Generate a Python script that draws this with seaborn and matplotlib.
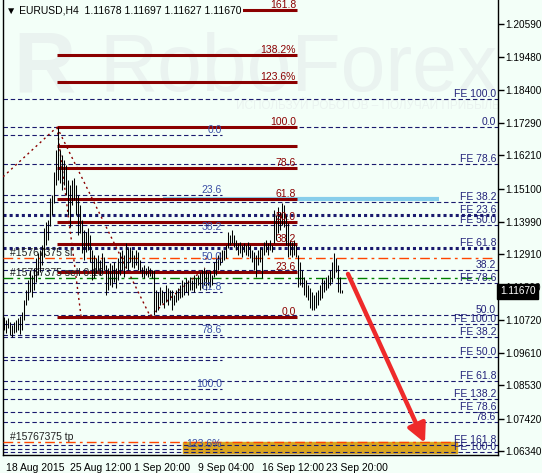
import numpy as np
import pandas as pd
import matplotlib
matplotlib.use("Agg")
import matplotlib.pyplot as plt
import matplotlib.transforms as mtransforms
from matplotlib.patches import Rectangle
import seaborn as sns

# H4 bars, index 0 = 18 Aug 2015 00:00
bar_high = [1.1081, 1.1071, 1.1078, 1.1065, 1.1055, 1.1065, 1.1071, 1.1078, 1.1085, 1.1098,
            1.1138, 1.1171, 1.1205, 1.1238, 1.1221, 1.1245, 1.1278, 1.1295, 1.1305, 1.1322,
            1.1378, 1.1398, 1.1405, 1.1478, 1.1488, 1.1565, 1.1639, 1.1715, 1.1639, 1.1622,
            1.1605, 1.1589, 1.1538, 1.1522, 1.1538, 1.1545, 1.1522, 1.1488, 1.1455, 1.1405,
            1.1372, 1.1365, 1.1378, 1.1355, 1.1305, 1.1288, 1.1278, 1.1288, 1.1272, 1.1295,
            1.1282, 1.1255, 1.1245, 1.1262, 1.1255, 1.1265, 1.1245, 1.1278, 1.1298, 1.1305,
            1.1288, 1.1328, 1.1312, 1.1315, 1.1305, 1.1288, 1.1305, 1.1298, 1.1272, 1.1248,
            1.1255, 1.1245, 1.1252, 1.1245, 1.1238, 1.1238, 1.1171, 1.1165, 1.1181, 1.1171,
            1.1165, 1.1188, 1.1178, 1.1171, 1.1171, 1.1155, 1.1171, 1.1178, 1.1188, 1.1205,
            1.1198, 1.1211, 1.1205, 1.1215, 1.1205, 1.1221, 1.1211, 1.1221, 1.1231, 1.1238,
            1.1245, 1.1238, 1.1231, 1.1238, 1.1221, 1.1265, 1.1278, 1.1288, 1.1298, 1.1305,
            1.1305, 1.1322, 1.1365, 1.1355, 1.1372, 1.1355, 1.1338, 1.1328, 1.1332, 1.1322,
            1.1328, 1.1322, 1.1332, 1.1322, 1.1305, 1.1298, 1.1288, 1.1305, 1.1315, 1.1312,
            1.1332, 1.1338, 1.1328, 1.1338, 1.1322, 1.1438, 1.1422, 1.1448, 1.1432, 1.1462,
            1.1455, 1.1422, 1.1395, 1.1338, 1.1332, 1.1338, 1.1322, 1.1288, 1.1265, 1.1238,
            1.1215, 1.1205, 1.1188, 1.1178, 1.1165, 1.1155, 1.1165, 1.1171, 1.1188, 1.1211,
            1.1205, 1.1215, 1.1221, 1.1238, 1.1265, 1.1295, 1.1278, 1.1255, 1.1215, 1.1170]
bar_low = [1.1038, 1.1028, 1.1045, 1.1021, 1.1015, 1.1028, 1.1031, 1.1038, 1.1025, 1.1038,
           1.1071, 1.1121, 1.1138, 1.1165, 1.1148, 1.1171, 1.1198, 1.1221, 1.1231, 1.1255,
           1.1282, 1.1322, 1.1338, 1.1385, 1.1422, 1.1462, 1.1522, 1.1538, 1.1528, 1.1505,
           1.1522, 1.1488, 1.1422, 1.1382, 1.1455, 1.1472, 1.1422, 1.1355, 1.1362, 1.1295,
           1.1272, 1.1298, 1.1305, 1.1265, 1.1205, 1.1211, 1.1228, 1.1238, 1.1221, 1.1231,
           1.1238, 1.1155, 1.1171, 1.1188, 1.1181, 1.1198, 1.1178, 1.1205, 1.1221, 1.1238,
           1.1215, 1.1245, 1.1238, 1.1265, 1.1248, 1.1245, 1.1255, 1.1238, 1.1231, 1.1215,
           1.1211, 1.1221, 1.1215, 1.1218, 1.1211, 1.1088, 1.1098, 1.1105, 1.1121, 1.1128,
           1.1111, 1.1131, 1.1121, 1.1138, 1.1105, 1.1121, 1.1131, 1.1138, 1.1145, 1.1148,
           1.1155, 1.1165, 1.1155, 1.1171, 1.1171, 1.1165, 1.1178, 1.1188, 1.1171, 1.1178,
           1.1188, 1.1171, 1.1188, 1.1181, 1.1188, 1.1215, 1.1221, 1.1238, 1.1255, 1.1265,
           1.1272, 1.1278, 1.1312, 1.1322, 1.1328, 1.1315, 1.1305, 1.1288, 1.1295, 1.1282,
           1.1298, 1.1288, 1.1285, 1.1278, 1.1265, 1.1238, 1.1215, 1.1255, 1.1265, 1.1211,
           1.1288, 1.1298, 1.1288, 1.1305, 1.1298, 1.1328, 1.1338, 1.1362, 1.1372, 1.1388,
           1.1382, 1.1322, 1.1282, 1.1288, 1.1282, 1.1288, 1.1282, 1.1181, 1.1188, 1.1181,
           1.1155, 1.1148, 1.1138, 1.1111, 1.1105, 1.1105, 1.1111, 1.1121, 1.1138, 1.1145,
           1.1165, 1.1171, 1.1178, 1.1188, 1.1198, 1.1211, 1.1231, 1.1165, 1.1161, 1.1163]

price_ticks = [1.20590, 1.19480, 1.18400, 1.17290, 1.16210, 1.15100, 1.13990,
               1.12910, 1.11800, 1.10720, 1.09610, 1.08530, 1.07420, 1.06340]
date_ticks = [0, 32, 64, 96, 128, 160]
date_labels = ["18 Aug 2015", "25 Aug 12:00", "1 Sep 20:00", "9 Sep 04:00",
               "16 Sep 12:00", "23 Sep 20:00"]
last_price = 1.11670

# red fibo retracement (peak 27 -> low 75)
fib_low, fib_high = 1.1083, 1.1715
fib_from, fib_to = 26.5, 146.5
fib_ratios = [0.0, 23.6, 38.2, 50.0, 61.8, 78.6, 90.0, 100.0, 123.6, 138.2, 161.8]
fib_labels = ["0.0", "23.6", "38.2", "50.0", "61.8", "78.6", "", "100.0", "123.6%", "138.2%", "161.8"]

# blue retracement with labels in the middle
fib2_zero, fib2_full = 1.1689, 1.0841
fib2_to = 109
fib2_ratios = [0.0, 23.6, 38.2, 50.0, 61.8, 78.6, 88.6, 100.0, 123.6]
fib2_labels = ["0.0", "23.6", "38.2", "50.0", "61.8", "78.6", "", "100.0", "123.6%"]

# expansion levels labelled at the right edge
fe_prices = [1.1809, 1.1715, 1.1592, 1.1465, 1.1422, 1.1388, 1.1312, 1.1238, 1.1195,
             1.1088, 1.1058, 1.1015, 1.0948, 1.0868, 1.0808, 1.0764, 1.0731, 1.0654, 1.0631]
fe_labels = ["FE 100.0", "0.0", "FE 78.6", "FE 38.2", "FE 23.6", "FE 50.0", "FE 61.8", "38.2",
             "FE 78.6", "50.0", "FE 100.0", "FE 38.2", "FE 50.0", "FE 61.8", "FE 138.2",
             "FE 78.6", "78.6", "FE 161.8", "FE 100.0"]
fe_bold = [4, 6]

# dotted trend lines of the fibo tools: (bar, price) pairs
trend_lines = [((-0.5, 1.1549), (26.5, 1.1715)),
               ((26.5, 1.1715), (38.5, 1.1085)),
               ((26.5, 1.1715), (73.0, 1.1085)),
               ((73.0, 1.1085), (100.5, 1.1245))]

# order lines
sl_price, sell_price, tp_price = 1.1278, 1.1211, 1.0664
target_zone = (89.5, 226.5, 1.0628, 1.0664)
blue_zone = (79.5, 217.5, 1.1475)
arrow_from, arrow_to = (172.0, 1.1225), (210.5, 1.0661)

bg = "#f3fff8"
navy = "#1a1a6e"
dred = "#8b0000"
wm = "#eaf3f0"

sns.set_style("white", {"axes.facecolor": bg, "figure.facecolor": bg})
plt.rcParams["font.family"] = ["Liberation Sans", "DejaVu Sans"]
fs = 7.5

fig = plt.figure(figsize=(5.42, 4.73), dpi=100)
ax = fig.add_axes([3 / 542, 18 / 473, 495 / 542, 455 / 473])
ax.set_xlim(-0.5, 247)
ax.set_ylim(1.0621, 1.2139)

# watermark
ax.text(0.02, 0.80, "R", transform=ax.transAxes, fontsize=62, fontweight="bold",
        color=wm, va="baseline", zorder=0)
ax.text(0.195, 0.80, "RoboForex", transform=ax.transAxes, fontsize=58,
        color=wm, va="baseline", zorder=0)
ax.text(0.47, 0.767, "ИСПОЛЬЗУЙ РОБОТОВ – ПОЛУЧАЙ ПРИБЫЛЬ", transform=ax.transAxes,
        fontsize=8.5, color=wm, va="center", zorder=0)

# expansion levels
for k, (p, lab) in enumerate(zip(fe_prices, fe_labels)):
    if k in fe_bold:
        ax.hlines(p, -0.5, 247, colors=navy, lw=2.2, linestyles=(0, (1, 1)), zorder=2)
    else:
        ax.hlines(p, -0.5, 247, colors=navy, lw=0.8, linestyles=(0, (4, 2.5)), zorder=2)
    ax.text(246, p, lab, ha="right", va="bottom", fontsize=fs, color="#23237a", zorder=5)

# blue retracement
for r, lab in zip(fib2_ratios, fib2_labels):
    p = fib2_zero + (fib2_full - fib2_zero) * r / 100
    ax.hlines(p, -0.5, fib2_to, colors=navy, lw=0.8, linestyles=(0, (4, 2.5)), zorder=2)
    if lab:
        ax.text(fib2_to, p, lab, ha="right", va="bottom", fontsize=fs, color="#3b4fa5", zorder=5)

# target zone and order lines
x0, x1, y0, y1 = target_zone
ax.add_patch(Rectangle((x0, y0), x1 - x0, y1 - y0, color="#daa520", zorder=1))
ax.hlines(blue_zone[2], blue_zone[0], blue_zone[1], colors="#87ceeb", lw=3, zorder=2)
ax.hlines(sl_price, -0.5, 244, colors="#ff4500", lw=1, linestyles=(0, (7, 3, 2, 3)), zorder=3)
ax.hlines(sell_price, -0.5, 246, colors="#008000", lw=1, linestyles=(0, (7, 3, 2, 3)), zorder=3)
ax.hlines(tp_price, -0.5, x1, colors="#ff4500", lw=1, linestyles=(0, (7, 3, 2, 3)), zorder=3)
ax.text(3, sl_price, "#15767375 sl", fontsize=fs, color="#222222", va="bottom", zorder=4)
ax.text(3, sell_price, "#15767375 sell 0.10", fontsize=fs, color="#222222", va="bottom", zorder=4)
ax.text(3, tp_price, "#15767375 tp", fontsize=fs, color="#222222", va="bottom", zorder=4)

# red retracement
for r, lab in zip(fib_ratios, fib_labels):
    p = fib_low + (fib_high - fib_low) * r / 100
    ax.hlines(p, fib_from, fib_to, colors=dred, lw=2.2, zorder=3)
    if lab:
        ax.text(fib_to - 0.5, p, lab, ha="right", va="bottom", fontsize=fs, color=dred, zorder=5)

for (xa, ya), (xb, yb) in trend_lines:
    ax.plot([xa, xb], [ya, yb], color=dred, lw=1, ls=(0, (1.5, 2.5)), zorder=3)

# price bars
bars = pd.DataFrame({"high": bar_high, "low": bar_low})
bars["idx"] = np.arange(len(bars))
ax.vlines(bars["idx"], bars["low"], bars["high"], colors="black", lw=0.75, zorder=4)

# forecast arrow
ax.annotate("", xy=arrow_to, xytext=arrow_from,
            arrowprops=dict(arrowstyle="-|>", color="#ee2a2a", lw=3.2, mutation_scale=28,
                            shrinkA=0, shrinkB=0), zorder=6)

# axes
for s in ["left", "right", "bottom"]:
    ax.spines[s].set_visible(True)
    ax.spines[s].set_color("black")
    ax.spines[s].set_linewidth(1)
ax.spines["top"].set_visible(False)

ax.yaxis.tick_right()
ax.set_yticks(price_ticks)
ax.set_yticklabels([f"{v:.5f}" for v in price_ticks])
ax.set_xticks(date_ticks)
ax.set_xticklabels(date_labels, ha="left")
ax.tick_params(axis="both", direction="out", length=4, width=1, color="black",
               labelsize=fs, labelcolor="black", pad=2)
ax.tick_params(axis="y", left=False, right=True, pad=1.5, labelsize=7.2)
offset = mtransforms.ScaledTranslation(2 / 100, 0, fig.dpi_scale_trans)
for lab in ax.get_xticklabels():
    lab.set_transform(lab.get_transform() + offset)

trans = mtransforms.blended_transform_factory(ax.transAxes, ax.transData)
ax.text(1.004, last_price, f"{last_price:.5f}", transform=trans, fontsize=7.2, color="white",
        va="center", ha="left", zorder=7, clip_on=False,
        bbox=dict(boxstyle="square,pad=0.25", fc="black", ec="black"))

ax.text(0.006, 0.978, "▼ EURUSD,H4  1.11678 1.11697 1.11627 1.11670", transform=ax.transAxes,
        fontsize=fs, color="black", va="center", ha="left", zorder=7,
        bbox=dict(boxstyle="square,pad=0.1", fc=bg, ec="none"))

fig.savefig("out.png", dpi=100, facecolor=bg)
